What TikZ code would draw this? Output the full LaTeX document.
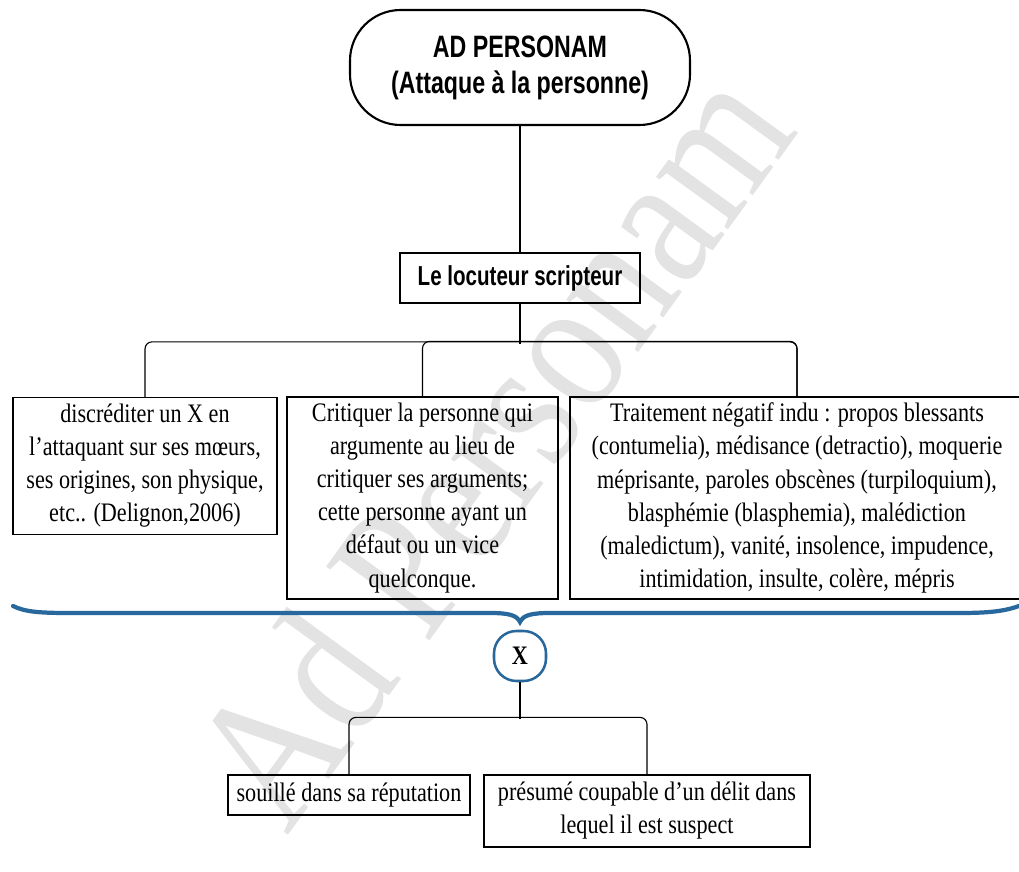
\documentclass[tikz,border=0pt]{standalone}
\usepackage{fontspec}
\setmainfont{Liberation Serif}[FakeStretch=0.83]
\newfontfamily\titrefont{Liberation Sans}[FakeStretch=0.75]
\usetikzlibrary{positioning}
\definecolor{bleuaccolade}{RGB}{40,104,156}

\begin{document}
\begin{tikzpicture}[
    x=0.025cm, y=-0.025cm, % une unite = un pixel de la figure
    % Styles des cases
    titre/.style={draw, line width=1.5pt, rounded corners=36pt, align=center,
        font=\titrefont\bfseries\fontsize{22}{25.6}\selectfont,
        minimum width=340*0.025cm, minimum height=115*0.025cm},
    locuteur/.style={draw, line width=1.8pt, align=center,
        font=\titrefont\bfseries\fontsize{19.5}{22}\selectfont,
        minimum width=240*0.025cm, minimum height=50*0.025cm},
    case/.style={draw, line width=0.9pt, align=center, inner sep=2pt,
        font=\fontsize{19}{23.5}\selectfont},
    rondx/.style={draw=bleuaccolade, line width=1.8pt, rounded corners=16pt,
        font=\bfseries\fontsize{19}{22}\selectfont,
        minimum width=52*0.025cm, minimum height=50*0.025cm},
    lien/.style={draw, line width=0.8pt, rounded corners=5pt},
    accolade/.style={draw=bleuaccolade, line width=3pt, line cap=round}
]
\useasboundingbox (0,0) rectangle (1019,872);

% Filigrane
\node[rotate=54, text=gray!22, font=\fontsize{138}{138}\selectfont]
    (filigrane) at (490,445) {Ad Personam};

% Racine
\node[titre] (adpersonam) at (520,67.5) {AD PERSONAM\\(Attaque à la personne)};
\node[locuteur] (locuteur) at (520,278) {Le locuteur scripteur};

% Les trois definitions
\node[case, minimum width=264*0.025cm, minimum height=137*0.025cm]
    (discrediter) at (145,466)
    {discréditer un X en\\l'attaquant sur ses mœurs,\\ses origines, son physique,\\etc.. (Delignon,2006)};
\node[case, minimum width=271*0.025cm, minimum height=202*0.025cm]
    (critiquer) at (422.5,498)
    {Critiquer la personne qui\\argumente au lieu de\\critiquer ses arguments;\\cette personne ayant un\\défaut ou un vice\\quelconque.};
\node[case, minimum width=454*0.025cm, minimum height=202*0.025cm]
    (traitement) at (797,498)
    {Traitement négatif indu : propos blessants\\(contumelia), médisance (detractio), moquerie\\méprisante, paroles obscènes (turpiloquium),\\blasphémie (blasphemia), malédiction\\(maledictum), vanité, insolence, impudence,\\intimidation, insulte, colère, mépris};

% Accolade
\draw[accolade] (13,606) .. controls (25,612) and (40,613) .. (70,613)
    -- (490,613) .. controls (508,613) and (517,615) .. (520,622)
    .. controls (523,615) and (532,613) .. (550,613)
    -- (960,613) .. controls (990,613) and (1005,611) .. (1019,606);

\node[rondx] (x) at (520,656) {X};

% Les deux consequences
\node[case, minimum width=242*0.025cm, minimum height=40*0.025cm]
    (souille) at (349,795) {souillé dans sa réputation};
\node[case, minimum width=326*0.025cm, minimum height=72*0.025cm]
    (presume) at (647,811) {présumé coupable d'un délit dans\\lequel il est suspect};

% Liens
\draw[lien] (adpersonam) -- (locuteur);
\draw[lien] (locuteur.south) -- ++(0,40);
\draw[lien] (discrediter.north) -- ++(0,-55) -| (traitement.north);
\draw[lien] (critiquer.north) -- ++(0,-55) -| (traitement.north);
\draw[lien] (x.south) -- ++(0,37);
\draw[lien] (souille.north) -- ++(0,-57) -| (presume.north);
\end{tikzpicture}
\end{document}
